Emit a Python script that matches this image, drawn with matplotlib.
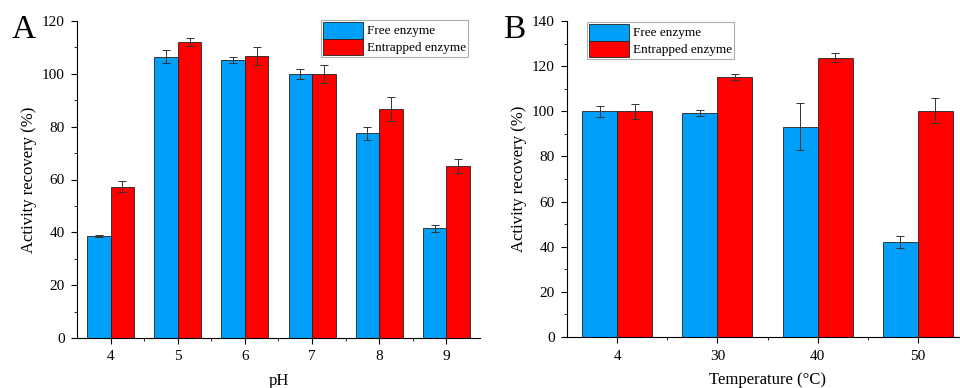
import numpy as np
import matplotlib
matplotlib.use("Agg")
import matplotlib.pyplot as plt
from matplotlib.ticker import MultipleLocator, FixedLocator

plt.rcParams["font.family"] = ["Liberation Serif", "DejaVu Serif"]
plt.rcParams["font.size"] = 11

# ---- data (A: pH) ----
ph_labels = ["4", "5", "6", "7", "8", "9"]
ph_free = [38.7, 106.5, 105.2, 100.0, 77.5, 41.5]
ph_free_err = [0.3, 2.5, 1.2, 1.9, 2.5, 1.3]
ph_entrap = [57.3, 112.0, 106.8, 100.0, 86.7, 65.0]
ph_entrap_err = [2.0, 1.5, 3.5, 3.5, 4.7, 2.6]

# ---- data (B: temperature) ----
temp_labels = ["4", "30", "40", "50"]
temp_free = [100.0, 99.2, 93.2, 42.0]
temp_free_err = [2.4, 1.5, 10.4, 2.7]
temp_entrap = [100.0, 115.2, 123.8, 100.3]
temp_entrap_err = [3.3, 1.5, 2.0, 5.7]

BLUE = "#00A0FA"
RED = "#FF0000"
W = 0.35

fig = plt.figure(figsize=(9.6, 3.88), dpi=100)
axA = fig.add_axes([77 / 960, 1 - 338 / 388, 403 / 960, 317 / 388])
axB = fig.add_axes([567 / 960, 1 - 337 / 388, 401 / 960, 316 / 388])


def draw(ax, labels, free, free_err, ent, ent_err, ymax, xlabel, letter, leg_anchor):
    x = np.arange(len(labels))
    ekw = dict(elinewidth=0.7, capthick=0.7, ecolor="#333333")
    ax.bar(x - W / 2, free, W, yerr=free_err, color=BLUE, edgecolor="#222222",
           linewidth=0.6, capsize=3, error_kw=ekw, label="Free enzyme")
    ax.bar(x + W / 2, ent, W, yerr=ent_err, color=RED, edgecolor="#222222",
           linewidth=0.6, capsize=3, error_kw=ekw, label="Entrapped enzyme")
    ax.set_xlim(-0.5, len(labels) - 0.5)
    ax.set_ylim(0, ymax)
    ax.set_xticks(x)
    ax.set_xticklabels(labels)
    ax.xaxis.set_minor_locator(FixedLocator(x[:-1] + 0.5))
    ax.yaxis.set_major_locator(MultipleLocator(20))
    ax.yaxis.set_minor_locator(MultipleLocator(10))
    ax.tick_params(which="major", direction="out", length=4, width=0.8,
                   labelsize=11, pad=5)
    ax.tick_params(which="minor", direction="out", length=2, width=0.6)
    for s in ("top", "right"):
        ax.spines[s].set_visible(False)
    ax.set_xlabel(xlabel, fontsize=12, labelpad=7)
    ax.set_ylabel("Activity recovery (%)", fontsize=12, labelpad=3)
    leg = ax.legend(loc="upper left", bbox_to_anchor=leg_anchor,
                    bbox_transform=fig.transFigure, fontsize=9.5,
                    frameon=True, fancybox=False, edgecolor="#999999",
                    borderpad=0.12, labelspacing=0.0, handlelength=3.1,
                    handleheight=1.6, handletextpad=0.3, borderaxespad=0)
    leg.get_frame().set_linewidth(0.8)
    fig.text(*letter[1:], letter[0], fontsize=24, ha="left", va="top")


draw(axA, ph_labels, ph_free, ph_free_err, ph_entrap, ph_entrap_err, 120, "pH",
     ("A", 12 / 960, 1 - 14 / 388), (321 / 960, 1 - 20 / 388))
draw(axB, temp_labels, temp_free, temp_free_err, temp_entrap, temp_entrap_err, 140,
     "Temperature (\u00b0C)", ("B", 503 / 960, 1 - 15 / 388), (587 / 960, 1 - 22 / 388))

fig.savefig("out.png", dpi=100)
